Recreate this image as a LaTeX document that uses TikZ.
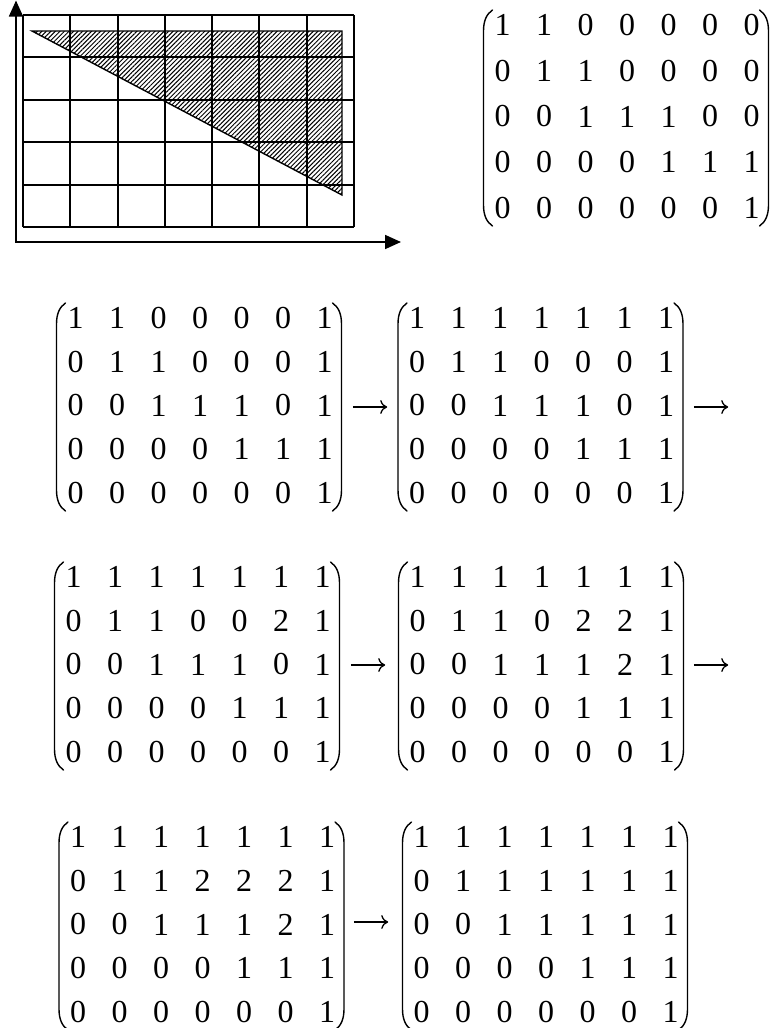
\documentclass[tikz,border=0pt]{standalone}
\usepackage{fontspec}
\setmainfont{Liberation Serif}
\usetikzlibrary{matrix,calc,arrows.meta,patterns.meta}
\tikzset{
  digit/.style={font=\fontsize{32}{32}\selectfont, inner sep=0pt, minimum width=41.5pt, minimum height=43.75pt, anchor=center},
  mat/.style={matrix of nodes, nodes={digit}, inner sep=0pt, outer sep=0pt, column sep=0pt, row sep=0pt, anchor=center},
  paren/.style={line width=1.4pt, line cap=round},
  gridline/.style={line width=2pt},
  axis/.style={line width=1.7pt, -{Triangle[length=16pt,width=14pt]}},
  arrowbox/.style={inner sep=0pt, minimum width=34pt, minimum height=12pt},
  arrowline/.style={line width=1.3pt, -{Computer Modern Rightarrow[length=7pt,width=14pt,line width=1.3pt]}},
}
\newcommand\matparens[1]{%
  \coordinate (#1-tl) at ($(#1-1-1.center)+(-19,-15)$);
  \coordinate (#1-bl) at ($(#1-5-1.center)+(-19,18)$);
  \coordinate (#1-tr) at ($(#1-1-7.center)+(17,-15)$);
  \coordinate (#1-br) at ($(#1-5-7.center)+(17,18)$);
  \draw[paren] ($(#1-tl)+(9,0)$) .. controls ($(#1-tl)+(3,4)$) and ($(#1-tl)+(0,11)$) .. ($(#1-tl)+(0,21)$) -- ($(#1-bl)+(0,-21)$) .. controls ($(#1-bl)+(0,-11)$) and ($(#1-bl)+(3,-4)$) .. ($(#1-bl)+(9,0)$);
  \draw[paren] ($(#1-tr)+(-9,0)$) .. controls ($(#1-tr)+(-3,4)$) and ($(#1-tr)+(0,11)$) .. ($(#1-tr)+(0,21)$) -- ($(#1-br)+(0,-21)$) .. controls ($(#1-br)+(0,-11)$) and ($(#1-br)+(-3,-4)$) .. ($(#1-br)+(-9,0)$);
}
\begin{document}
\begin{tikzpicture}[x=1pt,y=-1pt]
\useasboundingbox (0,0) rectangle (780,1028);

% grid with hatched triangle
\fill[pattern={Lines[angle=45,distance=3.2pt,line width=1pt]}] (32,31) -- (342,31) -- (342,195) -- cycle;
\foreach \i in {0,...,7} {
  \draw[gridline] ({23+\i*47.286},15) -- ({23+\i*47.286},227);
}
\foreach \j in {0,...,5} {
  \draw[gridline] (23,{15+\j*42.4}) -- (354,{15+\j*42.4});
}
\draw[line width=1.4pt, line join=miter] (32,31) -- (342,31) -- (342,195) -- cycle;

% axes
\coordinate (O) at (16,242);
\coordinate (ytip) at (16,0.5);
\coordinate (xtip) at (401,242);
\draw[axis, line cap=rect] (O) -- (ytip);
\draw[axis, line cap=rect] (O) -- (xtip);

% matrices
\matrix (m0) [mat, nodes={minimum height=45.75pt}] at (627,116.5) {
1 & 1 & 0 & 0 & 0 & 0 & 0 \\
0 & 1 & 1 & 0 & 0 & 0 & 0 \\
0 & 0 & 1 & 1 & 1 & 0 & 0 \\
0 & 0 & 0 & 0 & 1 & 1 & 1 \\
0 & 0 & 0 & 0 & 0 & 0 & 1 \\
};
\matrix (m1) [mat] at (200,405.5) {
1 & 1 & 0 & 0 & 0 & 0 & 1 \\
0 & 1 & 1 & 0 & 0 & 0 & 1 \\
0 & 0 & 1 & 1 & 1 & 0 & 1 \\
0 & 0 & 0 & 0 & 1 & 1 & 1 \\
0 & 0 & 0 & 0 & 0 & 0 & 1 \\
};
\matrix (m2) [mat] at (541.5,405.5) {
1 & 1 & 1 & 1 & 1 & 1 & 1 \\
0 & 1 & 1 & 0 & 0 & 0 & 1 \\
0 & 0 & 1 & 1 & 1 & 0 & 1 \\
0 & 0 & 0 & 0 & 1 & 1 & 1 \\
0 & 0 & 0 & 0 & 0 & 0 & 1 \\
};
\matrix (m3) [mat] at (198,664.5) {
1 & 1 & 1 & 1 & 1 & 1 & 1 \\
0 & 1 & 1 & 0 & 0 & 2 & 1 \\
0 & 0 & 1 & 1 & 1 & 0 & 1 \\
0 & 0 & 0 & 0 & 1 & 1 & 1 \\
0 & 0 & 0 & 0 & 0 & 0 & 1 \\
};
\matrix (m4) [mat] at (542,664.5) {
1 & 1 & 1 & 1 & 1 & 1 & 1 \\
0 & 1 & 1 & 0 & 2 & 2 & 1 \\
0 & 0 & 1 & 1 & 1 & 2 & 1 \\
0 & 0 & 0 & 0 & 1 & 1 & 1 \\
0 & 0 & 0 & 0 & 0 & 0 & 1 \\
};
\matrix (m5) [mat] at (202.5,924.5) {
1 & 1 & 1 & 1 & 1 & 1 & 1 \\
0 & 1 & 1 & 2 & 2 & 2 & 1 \\
0 & 0 & 1 & 1 & 1 & 2 & 1 \\
0 & 0 & 0 & 0 & 1 & 1 & 1 \\
0 & 0 & 0 & 0 & 0 & 0 & 1 \\
};
\matrix (m6) [mat] at (546,924.5) {
1 & 1 & 1 & 1 & 1 & 1 & 1 \\
0 & 1 & 1 & 1 & 1 & 1 & 1 \\
0 & 0 & 1 & 1 & 1 & 1 & 1 \\
0 & 0 & 0 & 0 & 1 & 1 & 1 \\
0 & 0 & 0 & 0 & 0 & 0 & 1 \\
};
\foreach \m in {m0,m1,m2,m3,m4,m5,m6} { \matparens{\m} }

% arrows between matrices
\node[arrowbox] (a1) at (370,407) {};
\node[arrowbox] (a2) at (711,407) {};
\node[arrowbox] (a3) at (368,665) {};
\node[arrowbox] (a4) at (711,665) {};
\node[arrowbox] (a5) at (371,922) {};
\foreach \a in {a1,a2,a3,a4,a5} { \draw[arrowline] (\a.west) -- (\a.east); }
\end{tikzpicture}
\end{document}
